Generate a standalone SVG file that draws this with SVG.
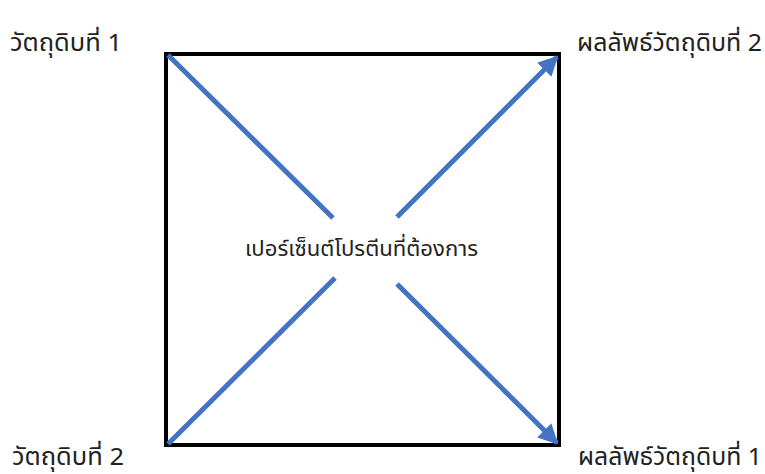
<svg xmlns="http://www.w3.org/2000/svg" width="765" height="474" viewBox="0 0 765 474">
<style>
text{font-family:"Noto Sans","Noto Sans Thai","Liberation Sans",sans-serif;font-size:24px;fill:#222}
.c{font-size:22px}
.ln{stroke:#4472C4;stroke-width:5;fill:none}
</style>
<defs>
<marker id="ah" viewBox="0 0 10 10" refX="9" refY="5" markerWidth="4" markerHeight="4" markerUnits="strokeWidth" orient="auto">
<path d="M0,0 L10,5 L0,10 z" fill="#4472C4"/>
</marker>
</defs>
<rect x="166" y="54" width="393" height="391" fill="#fff" stroke="#000" stroke-width="4"/>
<g id="connectors">
<line class="ln" x1="168" y1="55" x2="333" y2="218"/>
<line class="ln" x1="397" y1="217" x2="557" y2="57" marker-end="url(#ah)"/>
<line class="ln" x1="168" y1="444" x2="335" y2="278"/>
<line class="ln" x1="397" y1="284" x2="557" y2="443" marker-end="url(#ah)"/>
</g>
<g id="n1"><text x="10" y="51" textLength="112" lengthAdjust="spacingAndGlyphs">วัตถุดิบที่ 1</text></g>
<g id="n2"><text x="577" y="51" textLength="185" lengthAdjust="spacingAndGlyphs">ผลลัพธ์วัตถุดิบที่ 2</text></g>
<g id="n3"><text x="12" y="465" textLength="112" lengthAdjust="spacingAndGlyphs">วัตถุดิบที่ 2</text></g>
<g id="n4"><text x="578" y="465" textLength="184" lengthAdjust="spacingAndGlyphs">ผลลัพธ์วัตถุดิบที่ 1</text></g>
<g id="center"><text class="c" x="245" y="256" textLength="233" lengthAdjust="spacingAndGlyphs">เปอร์เซ็นต์โปรตีนที่ต้องการ</text></g>
</svg>
